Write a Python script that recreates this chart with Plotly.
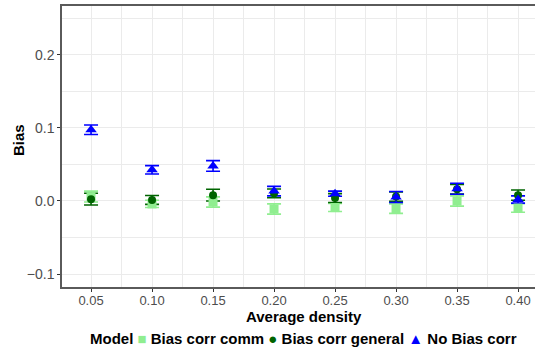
import plotly.graph_objects as go

density = [0.05, 0.10, 0.15, 0.20, 0.25, 0.30, 0.35, 0.40]

comm_bias = [0.006, -0.004, -0.0014, -0.011, -0.009, -0.0105, 0.000, -0.0096]
comm_err = [0.0075, 0.005, 0.007, 0.007, 0.0055, 0.0065, 0.007, 0.0058]

general_bias = [0.0025, 0.0014, 0.008, 0.0105, 0.004, 0.006, 0.016, 0.008]
general_err = [0.008, 0.006, 0.008, 0.006, 0.006, 0.0065, 0.0065, 0.007]

nobias_bias = [0.0975, 0.0427, 0.048, 0.0135, 0.010, 0.0055, 0.0168, 0.002]
nobias_err = [0.0065, 0.0057, 0.0073, 0.0065, 0.0035, 0.0075, 0.0075, 0.005]

series = [
    ("Bias corr comm", comm_bias, comm_err, "#90EE90", "square", 9, "\u25A0"),
    ("Bias corr general", general_bias, general_err, "#006400", "circle", 8, "\u25CF"),
    ("No Bias corr", nobias_bias, nobias_err, "#0000FF", "triangle-up", 10, "\u25B2"),
]

FONT = "Liberation Sans, Arial, sans-serif"
PLOT_L, PLOT_R, PLOT_T, PLOT_B = 62, 535, 6, 287
PW, PH = PLOT_R - PLOT_L, PLOT_B - PLOT_T

fig = go.Figure()

# error bars first (drawn beneath all points)
for name, y, e, col, sym, sz, glyph in series:
    fig.add_trace(go.Scatter(
        x=density, y=y, mode="markers",
        marker=dict(size=1, opacity=0, color=col),
        error_y=dict(type="data", array=e, visible=True, color=col,
                     thickness=1.6, width=7),
        showlegend=False, hoverinfo="skip",
    ))

for name, y, e, col, sym, sz, glyph in series:
    fig.add_trace(go.Scatter(
        x=density, y=y, mode="markers", name=name, showlegend=False,
        marker=dict(size=sz, color=col, symbol=sym, line=dict(width=0)),
    ))

axis_line = dict(showline=True, linecolor="#5a5a5a", linewidth=1.5)

legend_text = "<b>Model</b>"
for name, y, e, col, sym, sz, glyph in series:
    legend_text += f" <span style='color:{col}'>{glyph}</span> <b>{name}</b>"

fig.add_annotation(
    text=legend_text, xref="paper", yref="paper",
    x=(303 - PLOT_L) / PW, y=(PLOT_B - 338) / PH,
    xanchor="center", yanchor="middle", showarrow=False,
    font=dict(size=15, color="#000000", family=FONT),
)
fig.add_annotation(
    text="<b>Average density</b>", xref="paper", yref="paper",
    x=(304 - PLOT_L) / PW, y=(PLOT_B - 316) / PH,
    xanchor="center", yanchor="middle", showarrow=False, borderpad=0,
    font=dict(size=15, color="#000000", family=FONT),
)
fig.add_annotation(
    text="<b>Bias</b>", xref="paper", yref="paper", textangle=-90,
    x=(18 - PLOT_L) / PW, y=(PLOT_B - 140) / PH,
    xanchor="center", yanchor="middle", showarrow=False,
    font=dict(size=15, color="#000000", family=FONT),
)

fig.update_layout(
    width=535, height=347,
    margin=dict(l=PLOT_L, r=535 - PLOT_R, t=PLOT_T, b=347 - PLOT_B),
    paper_bgcolor="white", plot_bgcolor="white",
    showlegend=False,
    font=dict(family=FONT, color="#000000"),
    xaxis=dict(
        range=[0.0262, 0.4139],
        tickmode="array", tickvals=density,
        ticktext=[f"{v:.2f}" for v in density],
        tickfont=dict(size=13, color="#4D4D4D"),
        ticks="outside", ticklen=3, tickcolor="#333333",
        ticklabelstandoff=-2,
        showgrid=True, gridcolor="#EBEBEB", gridwidth=1.2,
        minor=dict(dtick=0.025, tick0=0.025, showgrid=True, gridcolor="#EBEBEB", gridwidth=1),
        zeroline=False, mirror=True,
        **axis_line,
    ),
    yaxis=dict(
        range=[-0.1178, 0.267],
        tickmode="array", tickvals=[-0.1, 0.0, 0.1, 0.2],
        ticktext=["\u22120.1", "0.0", "0.1", "0.2"],
        tickfont=dict(size=14, color="#4D4D4D"),
        ticks="outside", ticklen=3, tickcolor="#333333",
        showgrid=True, gridcolor="#EBEBEB", gridwidth=1.2,
        minor=dict(dtick=0.05, tick0=0.05, showgrid=True, gridcolor="#EBEBEB", gridwidth=1),
        zeroline=False, mirror=False,
        **axis_line,
    ),
)

fig.write_html("out.html")
